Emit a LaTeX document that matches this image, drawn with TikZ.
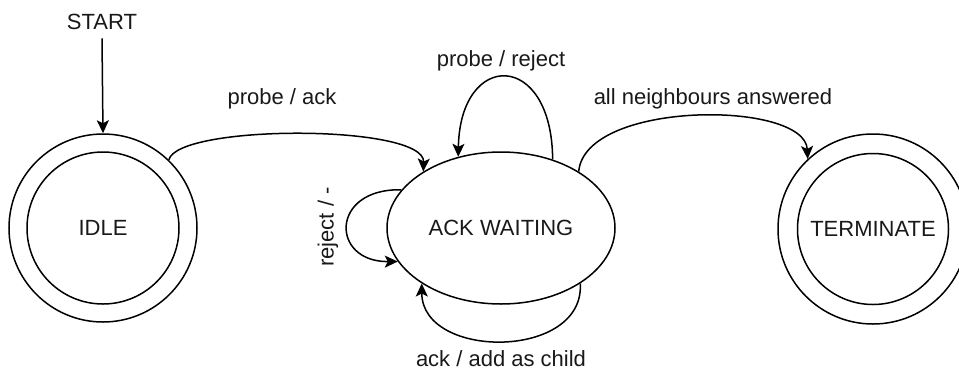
\documentclass[tikz,border=0pt]{standalone}
\usepackage{fontspec}
\setmainfont{Liberation Sans}
\usetikzlibrary{arrows.meta,shapes.geometric}
\begin{document}
\begin{tikzpicture}[x=1pt,y=-1pt,
  line width=1.5pt,
  every node/.style={font=\fontsize{22}{26}\selectfont, text=black!90},
  ring/.style={draw, circle, inner sep=0pt, minimum size=#1},
  oval/.style={draw, ellipse, inner sep=0pt, minimum width=228pt, minimum height=152pt},
  lbl/.style={anchor=base, inner sep=0pt},
  edge/.style={draw, -{Stealth[length=13pt,width=12pt,inset=3pt]}}
]
\useasboundingbox (0,0) rectangle (959,373);

% states
\node[ring=188pt] (idle) at (103,228) {};
\node[ring=152pt] (idlein) at (103,228) {IDLE};
\node[oval] (ack) at (501,228) {ACK WAITING};
\node[ring=190pt] (term) at (873,229) {};
\node[ring=151pt] (termin) at (873,229) {TERMINATE};

% initial marker
\node[lbl] (start) at (102,29.5) {START};
\draw[edge] (start.south) ++(0,8) coordinate (s0) (s0) -- (idle.north);

% transitions
\draw[edge] (idle.46) .. controls (178,124) and (425,124) .. (ack.144);
\node[lbl] (l1) at (282,104) {probe / ack};

\draw[edge] (ack.53) .. controls (552,50) and (460,50) .. (ack.121);
\node[lbl] (l2) at (501,66) {probe / reject};

\draw[edge] (ack.36) .. controls (585,100) and (805,100) .. (term.133);
\node[lbl] (l3) at (713,104) {all neighbours answered};

\draw[edge] (ack.159) .. controls (330,188) and (330,262) .. (ack.198);
\node[inner sep=0pt, rotate=90] (l4) at (328,227) {reject / -};

\draw[edge] (ack.325) .. controls (585,360) and (422,360) .. (ack.215);
\node[lbl] (l5) at (501,366) {ack / add as child};
\end{tikzpicture}
\end{document}
